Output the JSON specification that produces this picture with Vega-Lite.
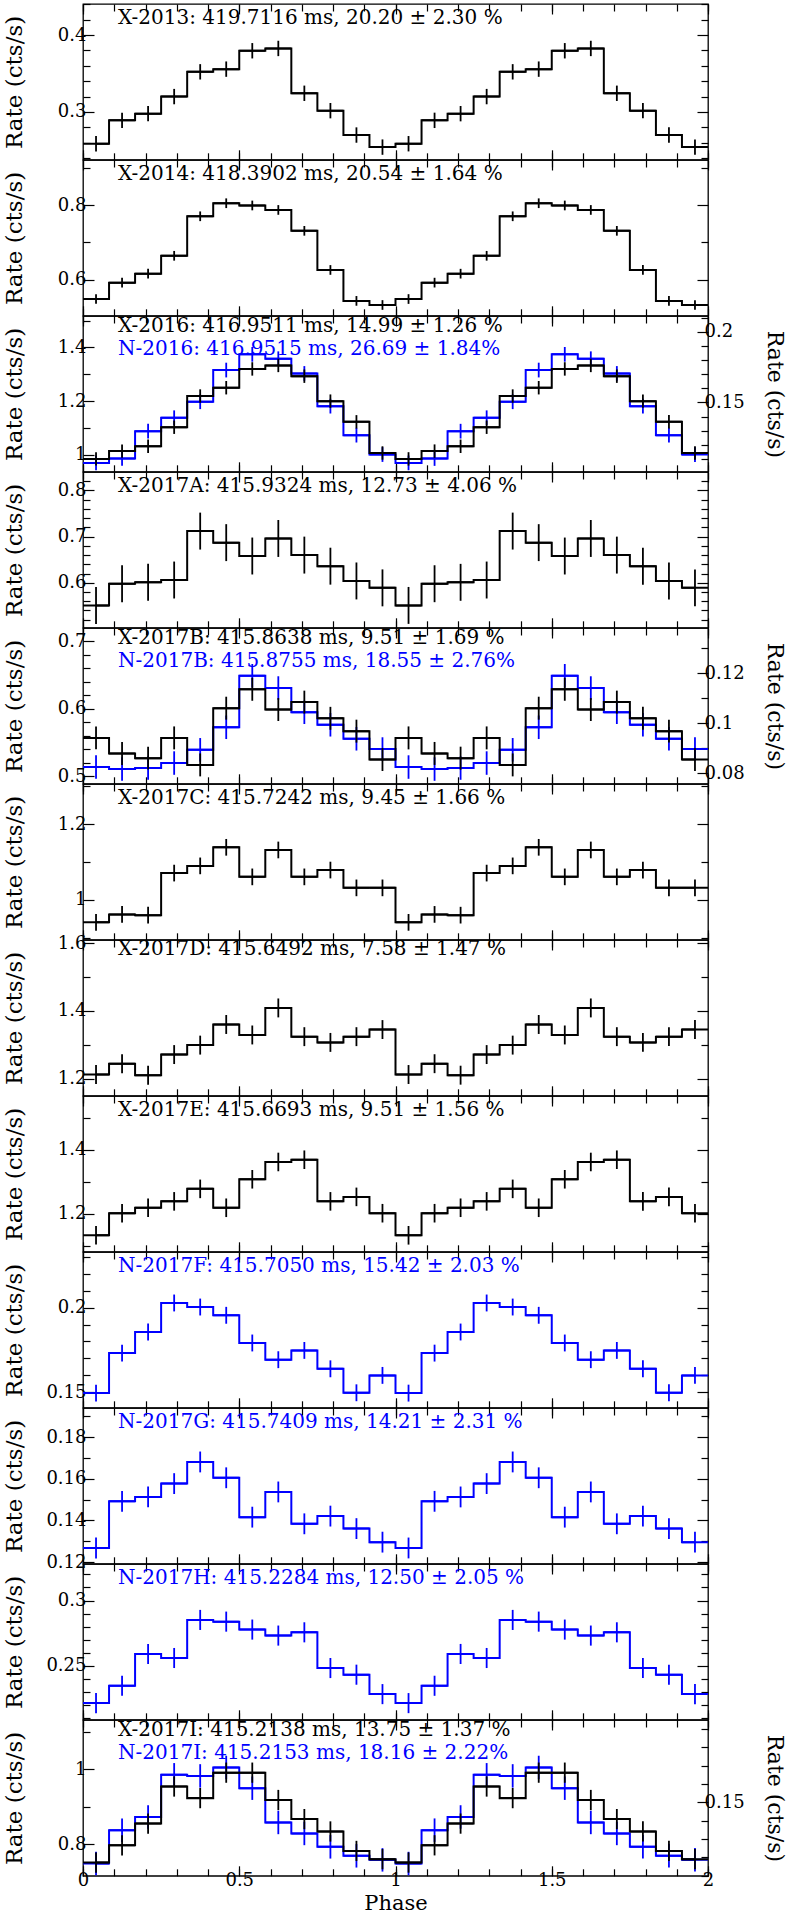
{
"$schema": "https://vega.github.io/schema/vega-lite/v6.json",
"padding": {"left": 2, "top": 2, "right": 0, "bottom": 0},
"background": "white",
"spacing": 0,
"bounds": "flush",
"datasets": {
"bins": [
{"bin":0,"phase":0.0417,"lo":0,"hi":0.0833},{"bin":1,"phase":0.125,"lo":0.0833,"hi":0.1667},{"bin":2,"phase":0.2083,"lo":0.1667,"hi":0.25},{"bin":3,"phase":0.2917,"lo":0.25,"hi":0.3333},{"bin":4,"phase":0.375,"lo":0.3333,"hi":0.4167},{"bin":5,"phase":0.4583,"lo":0.4167,"hi":0.5},{"bin":6,"phase":0.5417,"lo":0.5,"hi":0.5833},{"bin":7,"phase":0.625,"lo":0.5833,"hi":0.6667},{"bin":8,"phase":0.7083,"lo":0.6667,"hi":0.75},{"bin":9,"phase":0.7917,"lo":0.75,"hi":0.8333},{"bin":10,"phase":0.875,"lo":0.8333,"hi":0.9167},{"bin":11,"phase":0.9583,"lo":0.9167,"hi":1},
{"bin":12,"phase":1.0417,"lo":1,"hi":1.0833},{"bin":13,"phase":1.125,"lo":1.0833,"hi":1.1667},{"bin":14,"phase":1.2083,"lo":1.1667,"hi":1.25},{"bin":15,"phase":1.2917,"lo":1.25,"hi":1.3333},{"bin":16,"phase":1.375,"lo":1.3333,"hi":1.4167},{"bin":17,"phase":1.4583,"lo":1.4167,"hi":1.5},{"bin":18,"phase":1.5417,"lo":1.5,"hi":1.5833},{"bin":19,"phase":1.625,"lo":1.5833,"hi":1.6667},{"bin":20,"phase":1.7083,"lo":1.6667,"hi":1.75},{"bin":21,"phase":1.7917,"lo":1.75,"hi":1.8333},{"bin":22,"phase":1.875,"lo":1.8333,"hi":1.9167},{"bin":23,"phase":1.9583,"lo":1.9167,"hi":2}
],
"rows": [
{"s":"X-2013","bin":0,"rate":0.2587,"err":0.01},{"s":"X-2013","bin":1,"rate":0.2891,"err":0.01},{"s":"X-2013","bin":2,"rate":0.2978,"err":0.01},{"s":"X-2013","bin":3,"rate":0.32,"err":0.01},{"s":"X-2013","bin":4,"rate":0.3522,"err":0.01},{"s":"X-2013","bin":5,"rate":0.3557,"err":0.01},{"s":"X-2013","bin":6,"rate":0.3796,"err":0.01},{"s":"X-2013","bin":7,"rate":0.3826,"err":0.01},{"s":"X-2013","bin":8,"rate":0.3243,"err":0.01},{"s":"X-2013","bin":9,"rate":0.3017,"err":0.01},{"s":"X-2013","bin":10,"rate":0.27,"err":0.01},{"s":"X-2013","bin":11,"rate":0.2543,"err":0.01},
{"s":"X-2013","bin":12,"rate":0.2587,"err":0.01},{"s":"X-2013","bin":13,"rate":0.2891,"err":0.01},{"s":"X-2013","bin":14,"rate":0.2978,"err":0.01},{"s":"X-2013","bin":15,"rate":0.32,"err":0.01},{"s":"X-2013","bin":16,"rate":0.3522,"err":0.01},{"s":"X-2013","bin":17,"rate":0.3557,"err":0.01},{"s":"X-2013","bin":18,"rate":0.3796,"err":0.01},{"s":"X-2013","bin":19,"rate":0.3826,"err":0.01},{"s":"X-2013","bin":20,"rate":0.3243,"err":0.01},{"s":"X-2013","bin":21,"rate":0.3017,"err":0.01},{"s":"X-2013","bin":22,"rate":0.27,"err":0.01},{"s":"X-2013","bin":23,"rate":0.2543,"err":0.01},
{"s":"X-2014","bin":0,"rate":0.548,"err":0.013},{"s":"X-2014","bin":1,"rate":0.592,"err":0.013},{"s":"X-2014","bin":2,"rate":0.616,"err":0.013},{"s":"X-2014","bin":3,"rate":0.664,"err":0.013},{"s":"X-2014","bin":4,"rate":0.77,"err":0.013},{"s":"X-2014","bin":5,"rate":0.805,"err":0.013},{"s":"X-2014","bin":6,"rate":0.799,"err":0.013},{"s":"X-2014","bin":7,"rate":0.787,"err":0.013},{"s":"X-2014","bin":8,"rate":0.731,"err":0.013},{"s":"X-2014","bin":9,"rate":0.626,"err":0.013},{"s":"X-2014","bin":10,"rate":0.543,"err":0.013},{"s":"X-2014","bin":11,"rate":0.532,"err":0.013},
{"s":"X-2014","bin":12,"rate":0.548,"err":0.013},{"s":"X-2014","bin":13,"rate":0.592,"err":0.013},{"s":"X-2014","bin":14,"rate":0.616,"err":0.013},{"s":"X-2014","bin":15,"rate":0.664,"err":0.013},{"s":"X-2014","bin":16,"rate":0.77,"err":0.013},{"s":"X-2014","bin":17,"rate":0.805,"err":0.013},{"s":"X-2014","bin":18,"rate":0.799,"err":0.013},{"s":"X-2014","bin":19,"rate":0.787,"err":0.013},{"s":"X-2014","bin":20,"rate":0.731,"err":0.013},{"s":"X-2014","bin":21,"rate":0.626,"err":0.013},{"s":"X-2014","bin":22,"rate":0.543,"err":0.013},{"s":"X-2014","bin":23,"rate":0.532,"err":0.013},
{"s":"X-2016","bin":0,"rate":0.985,"err":0.025},{"s":"X-2016","bin":1,"rate":1.014,"err":0.025},{"s":"X-2016","bin":2,"rate":1.032,"err":0.025},{"s":"X-2016","bin":3,"rate":1.103,"err":0.025},{"s":"X-2016","bin":4,"rate":1.219,"err":0.025},{"s":"X-2016","bin":5,"rate":1.25,"err":0.025},{"s":"X-2016","bin":6,"rate":1.32,"err":0.025},{"s":"X-2016","bin":7,"rate":1.333,"err":0.025},{"s":"X-2016","bin":8,"rate":1.293,"err":0.025},{"s":"X-2016","bin":9,"rate":1.2,"err":0.025},{"s":"X-2016","bin":10,"rate":1.123,"err":0.025},{"s":"X-2016","bin":11,"rate":1.007,"err":0.025},
{"s":"X-2016","bin":12,"rate":0.985,"err":0.025},{"s":"X-2016","bin":13,"rate":1.014,"err":0.025},{"s":"X-2016","bin":14,"rate":1.032,"err":0.025},{"s":"X-2016","bin":15,"rate":1.103,"err":0.025},{"s":"X-2016","bin":16,"rate":1.219,"err":0.025},{"s":"X-2016","bin":17,"rate":1.25,"err":0.025},{"s":"X-2016","bin":18,"rate":1.32,"err":0.025},{"s":"X-2016","bin":19,"rate":1.333,"err":0.025},{"s":"X-2016","bin":20,"rate":1.293,"err":0.025},{"s":"X-2016","bin":21,"rate":1.2,"err":0.025},{"s":"X-2016","bin":22,"rate":1.123,"err":0.025},{"s":"X-2016","bin":23,"rate":1.007,"err":0.025},
{"s":"N-2016","bin":0,"rate":0.1073,"err":0.0052},{"s":"N-2016","bin":1,"rate":0.1104,"err":0.0052},{"s":"N-2016","bin":2,"rate":0.1297,"err":0.0052},{"s":"N-2016","bin":3,"rate":0.1392,"err":0.0052},{"s":"N-2016","bin":4,"rate":0.1505,"err":0.0052},{"s":"N-2016","bin":5,"rate":0.1729,"err":0.0052},{"s":"N-2016","bin":6,"rate":0.184,"err":0.0052},{"s":"N-2016","bin":7,"rate":0.1809,"err":0.0052},{"s":"N-2016","bin":8,"rate":0.1705,"err":0.0052},{"s":"N-2016","bin":9,"rate":0.1474,"err":0.0052},{"s":"N-2016","bin":10,"rate":0.1269,"err":0.0052},{"s":"N-2016","bin":11,"rate":0.1132,"err":0.0052},
{"s":"N-2016","bin":12,"rate":0.1073,"err":0.0052},{"s":"N-2016","bin":13,"rate":0.1104,"err":0.0052},{"s":"N-2016","bin":14,"rate":0.1297,"err":0.0052},{"s":"N-2016","bin":15,"rate":0.1392,"err":0.0052},{"s":"N-2016","bin":16,"rate":0.1505,"err":0.0052},{"s":"N-2016","bin":17,"rate":0.1729,"err":0.0052},{"s":"N-2016","bin":18,"rate":0.184,"err":0.0052},{"s":"N-2016","bin":19,"rate":0.1809,"err":0.0052},{"s":"N-2016","bin":20,"rate":0.1705,"err":0.0052},{"s":"N-2016","bin":21,"rate":0.1474,"err":0.0052},{"s":"N-2016","bin":22,"rate":0.1269,"err":0.0052},{"s":"N-2016","bin":23,"rate":0.1132,"err":0.0052},
{"s":"X-2017A","bin":0,"rate":0.551,"err":0.04},{"s":"X-2017A","bin":1,"rate":0.598,"err":0.04},{"s":"X-2017A","bin":2,"rate":0.601,"err":0.04},{"s":"X-2017A","bin":3,"rate":0.606,"err":0.04},{"s":"X-2017A","bin":4,"rate":0.712,"err":0.04},{"s":"X-2017A","bin":5,"rate":0.687,"err":0.04},{"s":"X-2017A","bin":6,"rate":0.658,"err":0.04},{"s":"X-2017A","bin":7,"rate":0.696,"err":0.04},{"s":"X-2017A","bin":8,"rate":0.66,"err":0.04},{"s":"X-2017A","bin":9,"rate":0.636,"err":0.04},{"s":"X-2017A","bin":10,"rate":0.604,"err":0.04},{"s":"X-2017A","bin":11,"rate":0.589,"err":0.04},
{"s":"X-2017A","bin":12,"rate":0.551,"err":0.04},{"s":"X-2017A","bin":13,"rate":0.598,"err":0.04},{"s":"X-2017A","bin":14,"rate":0.601,"err":0.04},{"s":"X-2017A","bin":15,"rate":0.606,"err":0.04},{"s":"X-2017A","bin":16,"rate":0.712,"err":0.04},{"s":"X-2017A","bin":17,"rate":0.687,"err":0.04},{"s":"X-2017A","bin":18,"rate":0.658,"err":0.04},{"s":"X-2017A","bin":19,"rate":0.696,"err":0.04},{"s":"X-2017A","bin":20,"rate":0.66,"err":0.04},{"s":"X-2017A","bin":21,"rate":0.636,"err":0.04},{"s":"X-2017A","bin":22,"rate":0.604,"err":0.04},{"s":"X-2017A","bin":23,"rate":0.589,"err":0.04},
{"s":"X-2017B","bin":0,"rate":0.557,"err":0.017},{"s":"X-2017B","bin":1,"rate":0.534,"err":0.017},{"s":"X-2017B","bin":2,"rate":0.527,"err":0.017},{"s":"X-2017B","bin":3,"rate":0.557,"err":0.017},{"s":"X-2017B","bin":4,"rate":0.517,"err":0.017},{"s":"X-2017B","bin":5,"rate":0.601,"err":0.017},{"s":"X-2017B","bin":6,"rate":0.629,"err":0.017},{"s":"X-2017B","bin":7,"rate":0.599,"err":0.017},{"s":"X-2017B","bin":8,"rate":0.61,"err":0.017},{"s":"X-2017B","bin":9,"rate":0.586,"err":0.017},{"s":"X-2017B","bin":10,"rate":0.567,"err":0.017},{"s":"X-2017B","bin":11,"rate":0.525,"err":0.017},
{"s":"X-2017B","bin":12,"rate":0.557,"err":0.017},{"s":"X-2017B","bin":13,"rate":0.534,"err":0.017},{"s":"X-2017B","bin":14,"rate":0.527,"err":0.017},{"s":"X-2017B","bin":15,"rate":0.557,"err":0.017},{"s":"X-2017B","bin":16,"rate":0.517,"err":0.017},{"s":"X-2017B","bin":17,"rate":0.601,"err":0.017},{"s":"X-2017B","bin":18,"rate":0.629,"err":0.017},{"s":"X-2017B","bin":19,"rate":0.599,"err":0.017},{"s":"X-2017B","bin":20,"rate":0.61,"err":0.017},{"s":"X-2017B","bin":21,"rate":0.586,"err":0.017},{"s":"X-2017B","bin":22,"rate":0.567,"err":0.017},{"s":"X-2017B","bin":23,"rate":0.525,"err":0.017},
{"s":"N-2017B","bin":0,"rate":0.0824,"err":0.0047},{"s":"N-2017B","bin":1,"rate":0.0816,"err":0.0047},{"s":"N-2017B","bin":2,"rate":0.082,"err":0.0047},{"s":"N-2017B","bin":3,"rate":0.084,"err":0.0047},{"s":"N-2017B","bin":4,"rate":0.0893,"err":0.0047},{"s":"N-2017B","bin":5,"rate":0.0983,"err":0.0047},{"s":"N-2017B","bin":6,"rate":0.1189,"err":0.0047},{"s":"N-2017B","bin":7,"rate":0.114,"err":0.0047},{"s":"N-2017B","bin":8,"rate":0.1043,"err":0.0047},{"s":"N-2017B","bin":9,"rate":0.0993,"err":0.0047},{"s":"N-2017B","bin":10,"rate":0.0937,"err":0.0047},{"s":"N-2017B","bin":11,"rate":0.0896,"err":0.0047},
{"s":"N-2017B","bin":12,"rate":0.0824,"err":0.0047},{"s":"N-2017B","bin":13,"rate":0.0816,"err":0.0047},{"s":"N-2017B","bin":14,"rate":0.082,"err":0.0047},{"s":"N-2017B","bin":15,"rate":0.084,"err":0.0047},{"s":"N-2017B","bin":16,"rate":0.0893,"err":0.0047},{"s":"N-2017B","bin":17,"rate":0.0983,"err":0.0047},{"s":"N-2017B","bin":18,"rate":0.1189,"err":0.0047},{"s":"N-2017B","bin":19,"rate":0.114,"err":0.0047},{"s":"N-2017B","bin":20,"rate":0.1043,"err":0.0047},{"s":"N-2017B","bin":21,"rate":0.0993,"err":0.0047},{"s":"N-2017B","bin":22,"rate":0.0937,"err":0.0047},{"s":"N-2017B","bin":23,"rate":0.0896,"err":0.0047},
{"s":"X-2017C","bin":0,"rate":0.941,"err":0.022},{"s":"X-2017C","bin":1,"rate":0.962,"err":0.022},{"s":"X-2017C","bin":2,"rate":0.96,"err":0.022},{"s":"X-2017C","bin":3,"rate":1.071,"err":0.022},{"s":"X-2017C","bin":4,"rate":1.09,"err":0.022},{"s":"X-2017C","bin":5,"rate":1.139,"err":0.022},{"s":"X-2017C","bin":6,"rate":1.061,"err":0.022},{"s":"X-2017C","bin":7,"rate":1.132,"err":0.022},{"s":"X-2017C","bin":8,"rate":1.061,"err":0.022},{"s":"X-2017C","bin":9,"rate":1.079,"err":0.022},{"s":"X-2017C","bin":10,"rate":1.032,"err":0.022},{"s":"X-2017C","bin":11,"rate":1.032,"err":0.022},
{"s":"X-2017C","bin":12,"rate":0.941,"err":0.022},{"s":"X-2017C","bin":13,"rate":0.962,"err":0.022},{"s":"X-2017C","bin":14,"rate":0.96,"err":0.022},{"s":"X-2017C","bin":15,"rate":1.071,"err":0.022},{"s":"X-2017C","bin":16,"rate":1.09,"err":0.022},{"s":"X-2017C","bin":17,"rate":1.139,"err":0.022},{"s":"X-2017C","bin":18,"rate":1.061,"err":0.022},{"s":"X-2017C","bin":19,"rate":1.132,"err":0.022},{"s":"X-2017C","bin":20,"rate":1.061,"err":0.022},{"s":"X-2017C","bin":21,"rate":1.079,"err":0.022},{"s":"X-2017C","bin":22,"rate":1.032,"err":0.022},{"s":"X-2017C","bin":23,"rate":1.032,"err":0.022},
{"s":"X-2017D","bin":0,"rate":1.212,"err":0.028},{"s":"X-2017D","bin":1,"rate":1.244,"err":0.028},{"s":"X-2017D","bin":2,"rate":1.21,"err":0.028},{"s":"X-2017D","bin":3,"rate":1.271,"err":0.028},{"s":"X-2017D","bin":4,"rate":1.299,"err":0.028},{"s":"X-2017D","bin":5,"rate":1.36,"err":0.028},{"s":"X-2017D","bin":6,"rate":1.329,"err":0.028},{"s":"X-2017D","bin":7,"rate":1.409,"err":0.028},{"s":"X-2017D","bin":8,"rate":1.324,"err":0.028},{"s":"X-2017D","bin":9,"rate":1.307,"err":0.028},{"s":"X-2017D","bin":10,"rate":1.324,"err":0.028},{"s":"X-2017D","bin":11,"rate":1.345,"err":0.028},
{"s":"X-2017D","bin":12,"rate":1.212,"err":0.028},{"s":"X-2017D","bin":13,"rate":1.244,"err":0.028},{"s":"X-2017D","bin":14,"rate":1.21,"err":0.028},{"s":"X-2017D","bin":15,"rate":1.271,"err":0.028},{"s":"X-2017D","bin":16,"rate":1.299,"err":0.028},{"s":"X-2017D","bin":17,"rate":1.36,"err":0.028},{"s":"X-2017D","bin":18,"rate":1.329,"err":0.028},{"s":"X-2017D","bin":19,"rate":1.409,"err":0.028},{"s":"X-2017D","bin":20,"rate":1.324,"err":0.028},{"s":"X-2017D","bin":21,"rate":1.307,"err":0.028},{"s":"X-2017D","bin":22,"rate":1.324,"err":0.028},{"s":"X-2017D","bin":23,"rate":1.345,"err":0.028},
{"s":"X-2017E","bin":0,"rate":1.133,"err":0.029},{"s":"X-2017E","bin":1,"rate":1.202,"err":0.029},{"s":"X-2017E","bin":2,"rate":1.219,"err":0.029},{"s":"X-2017E","bin":3,"rate":1.239,"err":0.029},{"s":"X-2017E","bin":4,"rate":1.278,"err":0.029},{"s":"X-2017E","bin":5,"rate":1.219,"err":0.029},{"s":"X-2017E","bin":6,"rate":1.308,"err":0.029},{"s":"X-2017E","bin":7,"rate":1.362,"err":0.029},{"s":"X-2017E","bin":8,"rate":1.369,"err":0.029},{"s":"X-2017E","bin":9,"rate":1.239,"err":0.029},{"s":"X-2017E","bin":10,"rate":1.253,"err":0.029},{"s":"X-2017E","bin":11,"rate":1.202,"err":0.029},
{"s":"X-2017E","bin":12,"rate":1.133,"err":0.029},{"s":"X-2017E","bin":13,"rate":1.202,"err":0.029},{"s":"X-2017E","bin":14,"rate":1.219,"err":0.029},{"s":"X-2017E","bin":15,"rate":1.239,"err":0.029},{"s":"X-2017E","bin":16,"rate":1.278,"err":0.029},{"s":"X-2017E","bin":17,"rate":1.219,"err":0.029},{"s":"X-2017E","bin":18,"rate":1.308,"err":0.029},{"s":"X-2017E","bin":19,"rate":1.362,"err":0.029},{"s":"X-2017E","bin":20,"rate":1.369,"err":0.029},{"s":"X-2017E","bin":21,"rate":1.239,"err":0.029},{"s":"X-2017E","bin":22,"rate":1.253,"err":0.029},{"s":"X-2017E","bin":23,"rate":1.202,"err":0.029},
{"s":"N-2017F","bin":0,"rate":0.1494,"err":0.005},{"s":"N-2017F","bin":1,"rate":0.1731,"err":0.005},{"s":"N-2017F","bin":2,"rate":0.1856,"err":0.005},{"s":"N-2017F","bin":3,"rate":0.2028,"err":0.005},{"s":"N-2017F","bin":4,"rate":0.2004,"err":0.005},{"s":"N-2017F","bin":5,"rate":0.1955,"err":0.005},{"s":"N-2017F","bin":6,"rate":0.1791,"err":0.005},{"s":"N-2017F","bin":7,"rate":0.1692,"err":0.005},{"s":"N-2017F","bin":8,"rate":0.1747,"err":0.005},{"s":"N-2017F","bin":9,"rate":0.1638,"err":0.005},{"s":"N-2017F","bin":10,"rate":0.1496,"err":0.005},{"s":"N-2017F","bin":11,"rate":0.1599,"err":0.005},
{"s":"N-2017F","bin":12,"rate":0.1494,"err":0.005},{"s":"N-2017F","bin":13,"rate":0.1731,"err":0.005},{"s":"N-2017F","bin":14,"rate":0.1856,"err":0.005},{"s":"N-2017F","bin":15,"rate":0.2028,"err":0.005},{"s":"N-2017F","bin":16,"rate":0.2004,"err":0.005},{"s":"N-2017F","bin":17,"rate":0.1955,"err":0.005},{"s":"N-2017F","bin":18,"rate":0.1791,"err":0.005},{"s":"N-2017F","bin":19,"rate":0.1692,"err":0.005},{"s":"N-2017F","bin":20,"rate":0.1747,"err":0.005},{"s":"N-2017F","bin":21,"rate":0.1638,"err":0.005},{"s":"N-2017F","bin":22,"rate":0.1496,"err":0.005},{"s":"N-2017F","bin":23,"rate":0.1599,"err":0.005},
{"s":"N-2017G","bin":0,"rate":0.1268,"err":0.005},{"s":"N-2017G","bin":1,"rate":0.1492,"err":0.005},{"s":"N-2017G","bin":2,"rate":0.1513,"err":0.005},{"s":"N-2017G","bin":3,"rate":0.1577,"err":0.005},{"s":"N-2017G","bin":4,"rate":0.1681,"err":0.005},{"s":"N-2017G","bin":5,"rate":0.1605,"err":0.005},{"s":"N-2017G","bin":6,"rate":0.1416,"err":0.005},{"s":"N-2017G","bin":7,"rate":0.1537,"err":0.005},{"s":"N-2017G","bin":8,"rate":0.1384,"err":0.005},{"s":"N-2017G","bin":9,"rate":0.1421,"err":0.005},{"s":"N-2017G","bin":10,"rate":0.1361,"err":0.005},{"s":"N-2017G","bin":11,"rate":0.1296,"err":0.005},
{"s":"N-2017G","bin":12,"rate":0.1268,"err":0.005},{"s":"N-2017G","bin":13,"rate":0.1492,"err":0.005},{"s":"N-2017G","bin":14,"rate":0.1513,"err":0.005},{"s":"N-2017G","bin":15,"rate":0.1577,"err":0.005},{"s":"N-2017G","bin":16,"rate":0.1681,"err":0.005},{"s":"N-2017G","bin":17,"rate":0.1605,"err":0.005},{"s":"N-2017G","bin":18,"rate":0.1416,"err":0.005},{"s":"N-2017G","bin":19,"rate":0.1537,"err":0.005},{"s":"N-2017G","bin":20,"rate":0.1384,"err":0.005},{"s":"N-2017G","bin":21,"rate":0.1421,"err":0.005},{"s":"N-2017G","bin":22,"rate":0.1361,"err":0.005},{"s":"N-2017G","bin":23,"rate":0.1296,"err":0.005},
{"s":"N-2017H","bin":0,"rate":0.2213,"err":0.0077},{"s":"N-2017H","bin":1,"rate":0.2346,"err":0.0077},{"s":"N-2017H","bin":2,"rate":0.259,"err":0.0077},{"s":"N-2017H","bin":3,"rate":0.2559,"err":0.0077},{"s":"N-2017H","bin":4,"rate":0.2851,"err":0.0077},{"s":"N-2017H","bin":5,"rate":0.2838,"err":0.0077},{"s":"N-2017H","bin":6,"rate":0.2777,"err":0.0077},{"s":"N-2017H","bin":7,"rate":0.2731,"err":0.0077},{"s":"N-2017H","bin":8,"rate":0.2756,"err":0.0077},{"s":"N-2017H","bin":9,"rate":0.2482,"err":0.0077},{"s":"N-2017H","bin":10,"rate":0.2431,"err":0.0077},{"s":"N-2017H","bin":11,"rate":0.2282,"err":0.0077},
{"s":"N-2017H","bin":12,"rate":0.2213,"err":0.0077},{"s":"N-2017H","bin":13,"rate":0.2346,"err":0.0077},{"s":"N-2017H","bin":14,"rate":0.259,"err":0.0077},{"s":"N-2017H","bin":15,"rate":0.2559,"err":0.0077},{"s":"N-2017H","bin":16,"rate":0.2851,"err":0.0077},{"s":"N-2017H","bin":17,"rate":0.2838,"err":0.0077},{"s":"N-2017H","bin":18,"rate":0.2777,"err":0.0077},{"s":"N-2017H","bin":19,"rate":0.2731,"err":0.0077},{"s":"N-2017H","bin":20,"rate":0.2756,"err":0.0077},{"s":"N-2017H","bin":21,"rate":0.2482,"err":0.0077},{"s":"N-2017H","bin":22,"rate":0.2431,"err":0.0077},{"s":"N-2017H","bin":23,"rate":0.2282,"err":0.0077},
{"s":"X-2017I","bin":0,"rate":0.751,"err":0.027},{"s":"X-2017I","bin":1,"rate":0.797,"err":0.027},{"s":"X-2017I","bin":2,"rate":0.855,"err":0.027},{"s":"X-2017I","bin":3,"rate":0.954,"err":0.027},{"s":"X-2017I","bin":4,"rate":0.923,"err":0.027},{"s":"X-2017I","bin":5,"rate":0.991,"err":0.027},{"s":"X-2017I","bin":6,"rate":0.991,"err":0.027},{"s":"X-2017I","bin":7,"rate":0.918,"err":0.027},{"s":"X-2017I","bin":8,"rate":0.867,"err":0.027},{"s":"X-2017I","bin":9,"rate":0.834,"err":0.027},{"s":"X-2017I","bin":10,"rate":0.782,"err":0.027},{"s":"X-2017I","bin":11,"rate":0.76,"err":0.027},
{"s":"X-2017I","bin":12,"rate":0.751,"err":0.027},{"s":"X-2017I","bin":13,"rate":0.797,"err":0.027},{"s":"X-2017I","bin":14,"rate":0.855,"err":0.027},{"s":"X-2017I","bin":15,"rate":0.954,"err":0.027},{"s":"X-2017I","bin":16,"rate":0.923,"err":0.027},{"s":"X-2017I","bin":17,"rate":0.991,"err":0.027},{"s":"X-2017I","bin":18,"rate":0.991,"err":0.027},{"s":"X-2017I","bin":19,"rate":0.918,"err":0.027},{"s":"X-2017I","bin":20,"rate":0.867,"err":0.027},{"s":"X-2017I","bin":21,"rate":0.834,"err":0.027},{"s":"X-2017I","bin":22,"rate":0.782,"err":0.027},{"s":"X-2017I","bin":23,"rate":0.76,"err":0.027},
{"s":"N-2017I","bin":0,"rate":0.1167,"err":0.0064},{"s":"N-2017I","bin":1,"rate":0.1349,"err":0.0064},{"s":"N-2017I","bin":2,"rate":0.1421,"err":0.0064},{"s":"N-2017I","bin":3,"rate":0.1651,"err":0.0064},{"s":"N-2017I","bin":4,"rate":0.1645,"err":0.0064},{"s":"N-2017I","bin":5,"rate":0.1691,"err":0.0064},{"s":"N-2017I","bin":6,"rate":0.1578,"err":0.0064},{"s":"N-2017I","bin":7,"rate":0.1391,"err":0.0064},{"s":"N-2017I","bin":8,"rate":0.1331,"err":0.0064},{"s":"N-2017I","bin":9,"rate":0.1258,"err":0.0064},{"s":"N-2017I","bin":10,"rate":0.1209,"err":0.0064},{"s":"N-2017I","bin":11,"rate":0.1187,"err":0.0064},
{"s":"N-2017I","bin":12,"rate":0.1167,"err":0.0064},{"s":"N-2017I","bin":13,"rate":0.1349,"err":0.0064},{"s":"N-2017I","bin":14,"rate":0.1421,"err":0.0064},{"s":"N-2017I","bin":15,"rate":0.1651,"err":0.0064},{"s":"N-2017I","bin":16,"rate":0.1645,"err":0.0064},{"s":"N-2017I","bin":17,"rate":0.1691,"err":0.0064},{"s":"N-2017I","bin":18,"rate":0.1578,"err":0.0064},{"s":"N-2017I","bin":19,"rate":0.1391,"err":0.0064},{"s":"N-2017I","bin":20,"rate":0.1331,"err":0.0064},{"s":"N-2017I","bin":21,"rate":0.1258,"err":0.0064},{"s":"N-2017I","bin":22,"rate":0.1209,"err":0.0064},{"s":"N-2017I","bin":23,"rate":0.1187,"err":0.0064}
]
},
"data": {"name": "rows"},
"transform": [{"lookup": "bin", "from": {"data": {"name": "bins"}, "key": "bin", "fields": ["phase", "lo", "hi"]}}],
"vconcat": [
{"width":625,"height":155.8,"title":{"text":"X-2013: 419.7116 ms, 20.20 ± 2.30 %"},"transform":[{"filter":"datum.s==='X-2013'"}],
"layer":[
{"mark":{"type":"rule","color":"#000","strokeWidth":2,"clip":true},"encoding":{"x":{"field":"lo","type":"quantitative","scale":{"domain":[0,2],"nice":false,"zero":false},"axis":{"orient":"bottom","values":[0,0.1,0.2,0.3,0.4,0.5,0.6,0.7,0.8,0.9,1,1.1,1.2,1.3,1.4,1.5,1.6,1.7,1.8,1.9,2],"tickSize":-7,"labels":false,"title":null}},"x2":{"field":"hi"},"y":{"field":"rate","type":"quantitative","scale":{"domain":[0.2378,0.4404],"nice":false,"zero":false},"axis":{"orient":"left","values":[0.3,0.4],"format":"~g","tickSize":-11,"title":"Rate (cts/s)","titlePadding":13,"titleFont":"DejaVu Serif","titleFontSize":23,"titleFontWeight":"normal","titleLimit":1000,"minExtent":44,"maxExtent":44}}}},
{"mark":{"type":"line","interpolate":"step","color":"#000","strokeWidth":2,"clip":true},"encoding":{"x":{"field":"phase","type":"quantitative","scale":{"domain":[0,2],"nice":false,"zero":false},"axis":null},"y":{"field":"rate","type":"quantitative","scale":{"domain":[0.2378,0.4404],"nice":false,"zero":false},"axis":null}}},
{"mark":{"type":"errorbar","color":"#000","thickness":1.8},"encoding":{"x":{"field":"phase","type":"quantitative","scale":{"domain":[0,2],"nice":false,"zero":false},"axis":null},"y":{"field":"rate","type":"quantitative","scale":{"domain":[0.2378,0.4404],"nice":false,"zero":false},"axis":null},"yError":{"field":"err"}}},
{"mark":{"type":"point","opacity":0},"encoding":{"x":{"field":"phase","type":"quantitative","scale":{"domain":[0,2],"nice":false,"zero":false},"axis":{"orient":"top","values":[0,0.1,0.2,0.3,0.4,0.5,0.6,0.7,0.8,0.9,1,1.1,1.2,1.3,1.4,1.5,1.6,1.7,1.8,1.9,2],"tickSize":-7,"labels":false,"title":null}},"y":{"field":"rate","type":"quantitative","scale":{"domain":[0.2378,0.4404],"nice":false,"zero":false},"axis":{"orient":"left","values":[0.24,0.26,0.28,0.32,0.34,0.36,0.38,0.42,0.44],"tickSize":-7,"labels":false,"title":null}}}},
{"mark":{"type":"point","opacity":0},"encoding":{"x":{"field":"phase","type":"quantitative","scale":{"domain":[0,2],"nice":false,"zero":false},"axis":{"orient":"bottom","values":[0,0.5,1,1.5,2],"tickSize":-10,"labels":false,"title":null}},"y":{"field":"rate","type":"quantitative","scale":{"domain":[0.2378,0.4404],"nice":false,"zero":false},"axis":{"orient":"right","values":[0.3,0.4],"tickSize":-11,"labels":false,"title":null}}}},
{"mark":{"type":"point","opacity":0},"encoding":{"x":{"field":"phase","type":"quantitative","scale":{"domain":[0,2],"nice":false,"zero":false},"axis":{"orient":"top","values":[0,0.5,1,1.5,2],"tickSize":-10,"labels":false,"title":null}},"y":{"field":"rate","type":"quantitative","scale":{"domain":[0.2378,0.4404],"nice":false,"zero":false},"axis":{"orient":"right","values":[0.24,0.26,0.28,0.32,0.34,0.36,0.38,0.42,0.44],"tickSize":-7,"labels":false,"title":null}}}}
],"resolve":{"scale":{"y":"independent"},"axis":{"x":"independent","y":"independent"}}},

{"width":625,"height":155.8,"title":{"text":"X-2014: 418.3902 ms, 20.54 ± 1.64 %"},"transform":[{"filter":"datum.s==='X-2014'"}],
"layer":[
{"mark":{"type":"rule","color":"#000","strokeWidth":2,"clip":true},"encoding":{"x":{"field":"lo","type":"quantitative","scale":{"domain":[0,2],"nice":false,"zero":false},"axis":{"orient":"bottom","values":[0,0.1,0.2,0.3,0.4,0.5,0.6,0.7,0.8,0.9,1,1.1,1.2,1.3,1.4,1.5,1.6,1.7,1.8,1.9,2],"tickSize":-7,"labels":false,"title":null}},"x2":{"field":"hi"},"y":{"field":"rate","type":"quantitative","scale":{"domain":[0.503,0.921],"nice":false,"zero":false},"axis":{"orient":"left","values":[0.6,0.8],"format":"~g","tickSize":-11,"title":"Rate (cts/s)","titlePadding":13,"titleFont":"DejaVu Serif","titleFontSize":23,"titleFontWeight":"normal","titleLimit":1000,"minExtent":44,"maxExtent":44}}}},
{"mark":{"type":"line","interpolate":"step","color":"#000","strokeWidth":2,"clip":true},"encoding":{"x":{"field":"phase","type":"quantitative","scale":{"domain":[0,2],"nice":false,"zero":false},"axis":null},"y":{"field":"rate","type":"quantitative","scale":{"domain":[0.503,0.921],"nice":false,"zero":false},"axis":null}}},
{"mark":{"type":"errorbar","color":"#000","thickness":1.8},"encoding":{"x":{"field":"phase","type":"quantitative","scale":{"domain":[0,2],"nice":false,"zero":false},"axis":null},"y":{"field":"rate","type":"quantitative","scale":{"domain":[0.503,0.921],"nice":false,"zero":false},"axis":null},"yError":{"field":"err"}}},
{"mark":{"type":"point","opacity":0},"encoding":{"x":{"field":"phase","type":"quantitative","scale":{"domain":[0,2],"nice":false,"zero":false},"axis":{"orient":"top","values":[0,0.1,0.2,0.3,0.4,0.5,0.6,0.7,0.8,0.9,1,1.1,1.2,1.3,1.4,1.5,1.6,1.7,1.8,1.9,2],"tickSize":-7,"labels":false,"title":null}},"y":{"field":"rate","type":"quantitative","scale":{"domain":[0.503,0.921],"nice":false,"zero":false},"axis":{"orient":"left","values":[0.7,0.9],"tickSize":-7,"labels":false,"title":null}}}},
{"mark":{"type":"point","opacity":0},"encoding":{"x":{"field":"phase","type":"quantitative","scale":{"domain":[0,2],"nice":false,"zero":false},"axis":{"orient":"bottom","values":[0,0.5,1,1.5,2],"tickSize":-10,"labels":false,"title":null}},"y":{"field":"rate","type":"quantitative","scale":{"domain":[0.503,0.921],"nice":false,"zero":false},"axis":{"orient":"right","values":[0.6,0.8],"tickSize":-11,"labels":false,"title":null}}}},
{"mark":{"type":"point","opacity":0},"encoding":{"x":{"field":"phase","type":"quantitative","scale":{"domain":[0,2],"nice":false,"zero":false},"axis":{"orient":"top","values":[0,0.5,1,1.5,2],"tickSize":-10,"labels":false,"title":null}},"y":{"field":"rate","type":"quantitative","scale":{"domain":[0.503,0.921],"nice":false,"zero":false},"axis":{"orient":"right","values":[0.7,0.9],"tickSize":-7,"labels":false,"title":null}}}}
],"resolve":{"scale":{"y":"independent"},"axis":{"x":"independent","y":"independent"}}},

{"width":625,"height":155.8,"title":{"text":"X-2016: 416.9511 ms, 14.99 ± 1.26 %","subtitle":"N-2016: 416.9515 ms, 26.69 ± 1.84%","offset":-44},
"layer":[
{"transform":[{"filter":"datum.s==='N-2016'"}],"mark":{"type":"rule","color":"#0000ff","strokeWidth":2,"clip":true},"encoding":{"x":{"field":"lo","type":"quantitative","scale":{"domain":[0,2],"nice":false,"zero":false},"axis":{"orient":"top","values":[0,0.1,0.2,0.3,0.4,0.5,0.6,0.7,0.8,0.9,1,1.1,1.2,1.3,1.4,1.5,1.6,1.7,1.8,1.9,2],"tickSize":-7,"labels":false,"title":null}},"x2":{"field":"hi"},"y":{"field":"rate","type":"quantitative","scale":{"domain":[0.101,0.2111],"nice":false,"zero":false},"axis":{"orient":"right","values":[0.15,0.2],"format":"~g","tickSize":-11,"labelPadding":7,"title":"Rate (cts/s)","titlePadding":10,"titleFont":"DejaVu Serif","titleFontSize":22,"titleFontWeight":"normal","titleLimit":1000,"minExtent":44,"maxExtent":44}}}},
{"transform":[{"filter":"datum.s==='N-2016'"}],"mark":{"type":"line","interpolate":"step","color":"#0000ff","strokeWidth":2,"clip":true},"encoding":{"x":{"field":"phase","type":"quantitative","scale":{"domain":[0,2],"nice":false,"zero":false},"axis":null},"y":{"field":"rate","type":"quantitative","scale":{"domain":[0.101,0.2111],"nice":false,"zero":false},"axis":null}}},
{"transform":[{"filter":"datum.s==='N-2016'"}],"mark":{"type":"errorbar","color":"#0000ff","thickness":1.8},"encoding":{"x":{"field":"phase","type":"quantitative","scale":{"domain":[0,2],"nice":false,"zero":false},"axis":null},"y":{"field":"rate","type":"quantitative","scale":{"domain":[0.101,0.2111],"nice":false,"zero":false},"axis":null},"yError":{"field":"err"}}},
{"transform":[{"filter":"datum.s==='X-2016'"}],"mark":{"type":"rule","color":"#000","strokeWidth":2,"clip":true},"encoding":{"x":{"field":"lo","type":"quantitative","scale":{"domain":[0,2],"nice":false,"zero":false},"axis":{"orient":"bottom","values":[0,0.1,0.2,0.3,0.4,0.5,0.6,0.7,0.8,0.9,1,1.1,1.2,1.3,1.4,1.5,1.6,1.7,1.8,1.9,2],"tickSize":-7,"labels":false,"title":null}},"x2":{"field":"hi"},"y":{"field":"rate","type":"quantitative","scale":{"domain":[0.937,1.517],"nice":false,"zero":false},"axis":{"orient":"left","values":[1,1.2,1.4],"format":"~g","tickSize":-11,"title":"Rate (cts/s)","titlePadding":13,"titleFont":"DejaVu Serif","titleFontSize":23,"titleFontWeight":"normal","titleLimit":1000,"minExtent":44,"maxExtent":44}}}},
{"transform":[{"filter":"datum.s==='X-2016'"}],"mark":{"type":"line","interpolate":"step","color":"#000","strokeWidth":2,"clip":true},"encoding":{"x":{"field":"phase","type":"quantitative","scale":{"domain":[0,2],"nice":false,"zero":false},"axis":null},"y":{"field":"rate","type":"quantitative","scale":{"domain":[0.937,1.517],"nice":false,"zero":false},"axis":null}}},
{"transform":[{"filter":"datum.s==='X-2016'"}],"mark":{"type":"errorbar","color":"#000","thickness":1.8},"encoding":{"x":{"field":"phase","type":"quantitative","scale":{"domain":[0,2],"nice":false,"zero":false},"axis":null},"y":{"field":"rate","type":"quantitative","scale":{"domain":[0.937,1.517],"nice":false,"zero":false},"axis":null},"yError":{"field":"err"}}},
{"transform":[{"filter":"datum.s==='X-2016'"}],"mark":{"type":"point","opacity":0},"encoding":{"x":{"field":"phase","type":"quantitative","scale":{"domain":[0,2],"nice":false,"zero":false},"axis":{"orient":"bottom","values":[0,0.5,1,1.5,2],"tickSize":-10,"labels":false,"title":null}},"y":{"field":"rate","type":"quantitative","scale":{"domain":[0.937,1.517],"nice":false,"zero":false},"axis":{"orient":"left","values":[1.1,1.3,1.5],"tickSize":-7,"labels":false,"title":null}}}},
{"transform":[{"filter":"datum.s==='N-2016'"}],"mark":{"type":"point","opacity":0},"encoding":{"x":{"field":"phase","type":"quantitative","scale":{"domain":[0,2],"nice":false,"zero":false},"axis":{"orient":"top","values":[0,0.5,1,1.5,2],"tickSize":-10,"labels":false,"title":null}},"y":{"field":"rate","type":"quantitative","scale":{"domain":[0.101,0.2111],"nice":false,"zero":false},"axis":{"orient":"right","values":[0.11,0.12,0.13,0.14,0.16,0.17,0.18,0.19,0.21],"tickSize":-7,"labels":false,"title":null}}}}
],"resolve":{"scale":{"y":"independent"},"axis":{"x":"independent","y":"independent"}}},

{"width":625,"height":155.8,"title":{"text":"X-2017A: 415.9324 ms, 12.73 ± 4.06 %"},"transform":[{"filter":"datum.s==='X-2017A'"}],
"layer":[
{"mark":{"type":"rule","color":"#000","strokeWidth":2,"clip":true},"encoding":{"x":{"field":"lo","type":"quantitative","scale":{"domain":[0,2],"nice":false,"zero":false},"axis":{"orient":"bottom","values":[0,0.1,0.2,0.3,0.4,0.5,0.6,0.7,0.8,0.9,1,1.1,1.2,1.3,1.4,1.5,1.6,1.7,1.8,1.9,2],"tickSize":-7,"labels":false,"title":null}},"x2":{"field":"hi"},"y":{"field":"rate","type":"quantitative","scale":{"domain":[0.5025,0.84],"nice":false,"zero":false},"axis":{"orient":"left","values":[0.6,0.7,0.8],"format":"~g","tickSize":-11,"title":"Rate (cts/s)","titlePadding":13,"titleFont":"DejaVu Serif","titleFontSize":23,"titleFontWeight":"normal","titleLimit":1000,"minExtent":44,"maxExtent":44}}}},
{"mark":{"type":"line","interpolate":"step","color":"#000","strokeWidth":2,"clip":true},"encoding":{"x":{"field":"phase","type":"quantitative","scale":{"domain":[0,2],"nice":false,"zero":false},"axis":null},"y":{"field":"rate","type":"quantitative","scale":{"domain":[0.5025,0.84],"nice":false,"zero":false},"axis":null}}},
{"mark":{"type":"errorbar","color":"#000","thickness":1.8},"encoding":{"x":{"field":"phase","type":"quantitative","scale":{"domain":[0,2],"nice":false,"zero":false},"axis":null},"y":{"field":"rate","type":"quantitative","scale":{"domain":[0.5025,0.84],"nice":false,"zero":false},"axis":null},"yError":{"field":"err"}}},
{"mark":{"type":"point","opacity":0},"encoding":{"x":{"field":"phase","type":"quantitative","scale":{"domain":[0,2],"nice":false,"zero":false},"axis":{"orient":"top","values":[0,0.1,0.2,0.3,0.4,0.5,0.6,0.7,0.8,0.9,1,1.1,1.2,1.3,1.4,1.5,1.6,1.7,1.8,1.9,2],"tickSize":-7,"labels":false,"title":null}},"y":{"field":"rate","type":"quantitative","scale":{"domain":[0.5025,0.84],"nice":false,"zero":false},"axis":{"orient":"left","values":[0.52,0.54,0.56,0.58,0.62,0.64,0.66,0.68,0.72,0.74,0.76,0.78,0.82],"tickSize":-7,"labels":false,"title":null}}}},
{"mark":{"type":"point","opacity":0},"encoding":{"x":{"field":"phase","type":"quantitative","scale":{"domain":[0,2],"nice":false,"zero":false},"axis":{"orient":"bottom","values":[0,0.5,1,1.5,2],"tickSize":-10,"labels":false,"title":null}},"y":{"field":"rate","type":"quantitative","scale":{"domain":[0.5025,0.84],"nice":false,"zero":false},"axis":{"orient":"right","values":[0.6,0.7,0.8],"tickSize":-11,"labels":false,"title":null}}}},
{"mark":{"type":"point","opacity":0},"encoding":{"x":{"field":"phase","type":"quantitative","scale":{"domain":[0,2],"nice":false,"zero":false},"axis":{"orient":"top","values":[0,0.5,1,1.5,2],"tickSize":-10,"labels":false,"title":null}},"y":{"field":"rate","type":"quantitative","scale":{"domain":[0.5025,0.84],"nice":false,"zero":false},"axis":{"orient":"right","values":[0.52,0.54,0.56,0.58,0.62,0.64,0.66,0.68,0.72,0.74,0.76,0.78,0.82],"tickSize":-7,"labels":false,"title":null}}}}
],"resolve":{"scale":{"y":"independent"},"axis":{"x":"independent","y":"independent"}}},

{"width":625,"height":155.8,"title":{"text":"X-2017B: 415.8638 ms, 9.51 ± 1.69 %","subtitle":"N-2017B: 415.8755 ms, 18.55 ± 2.76%","offset":-44},
"layer":[
{"transform":[{"filter":"datum.s==='N-2017B'"}],"mark":{"type":"rule","color":"#0000ff","strokeWidth":2,"clip":true},"encoding":{"x":{"field":"lo","type":"quantitative","scale":{"domain":[0,2],"nice":false,"zero":false},"axis":{"orient":"top","values":[0,0.1,0.2,0.3,0.4,0.5,0.6,0.7,0.8,0.9,1,1.1,1.2,1.3,1.4,1.5,1.6,1.7,1.8,1.9,2],"tickSize":-7,"labels":false,"title":null}},"x2":{"field":"hi"},"y":{"field":"rate","type":"quantitative","scale":{"domain":[0.0757,0.138],"nice":false,"zero":false},"axis":{"orient":"right","values":[0.08,0.1,0.12],"format":"~g","tickSize":-11,"labelPadding":7,"title":"Rate (cts/s)","titlePadding":10,"titleFont":"DejaVu Serif","titleFontSize":22,"titleFontWeight":"normal","titleLimit":1000,"minExtent":44,"maxExtent":44}}}},
{"transform":[{"filter":"datum.s==='N-2017B'"}],"mark":{"type":"line","interpolate":"step","color":"#0000ff","strokeWidth":2,"clip":true},"encoding":{"x":{"field":"phase","type":"quantitative","scale":{"domain":[0,2],"nice":false,"zero":false},"axis":null},"y":{"field":"rate","type":"quantitative","scale":{"domain":[0.0757,0.138],"nice":false,"zero":false},"axis":null}}},
{"transform":[{"filter":"datum.s==='N-2017B'"}],"mark":{"type":"errorbar","color":"#0000ff","thickness":1.8},"encoding":{"x":{"field":"phase","type":"quantitative","scale":{"domain":[0,2],"nice":false,"zero":false},"axis":null},"y":{"field":"rate","type":"quantitative","scale":{"domain":[0.0757,0.138],"nice":false,"zero":false},"axis":null},"yError":{"field":"err"}}},
{"transform":[{"filter":"datum.s==='X-2017B'"}],"mark":{"type":"rule","color":"#000","strokeWidth":2,"clip":true},"encoding":{"x":{"field":"lo","type":"quantitative","scale":{"domain":[0,2],"nice":false,"zero":false},"axis":{"orient":"bottom","values":[0,0.1,0.2,0.3,0.4,0.5,0.6,0.7,0.8,0.9,1,1.1,1.2,1.3,1.4,1.5,1.6,1.7,1.8,1.9,2],"tickSize":-7,"labels":false,"title":null}},"x2":{"field":"hi"},"y":{"field":"rate","type":"quantitative","scale":{"domain":[0.489,0.7198],"nice":false,"zero":false},"axis":{"orient":"left","values":[0.5,0.6,0.7],"format":"~g","tickSize":-11,"title":"Rate (cts/s)","titlePadding":13,"titleFont":"DejaVu Serif","titleFontSize":23,"titleFontWeight":"normal","titleLimit":1000,"minExtent":44,"maxExtent":44}}}},
{"transform":[{"filter":"datum.s==='X-2017B'"}],"mark":{"type":"line","interpolate":"step","color":"#000","strokeWidth":2,"clip":true},"encoding":{"x":{"field":"phase","type":"quantitative","scale":{"domain":[0,2],"nice":false,"zero":false},"axis":null},"y":{"field":"rate","type":"quantitative","scale":{"domain":[0.489,0.7198],"nice":false,"zero":false},"axis":null}}},
{"transform":[{"filter":"datum.s==='X-2017B'"}],"mark":{"type":"errorbar","color":"#000","thickness":1.8},"encoding":{"x":{"field":"phase","type":"quantitative","scale":{"domain":[0,2],"nice":false,"zero":false},"axis":null},"y":{"field":"rate","type":"quantitative","scale":{"domain":[0.489,0.7198],"nice":false,"zero":false},"axis":null},"yError":{"field":"err"}}},
{"transform":[{"filter":"datum.s==='X-2017B'"}],"mark":{"type":"point","opacity":0},"encoding":{"x":{"field":"phase","type":"quantitative","scale":{"domain":[0,2],"nice":false,"zero":false},"axis":{"orient":"bottom","values":[0,0.5,1,1.5,2],"tickSize":-10,"labels":false,"title":null}},"y":{"field":"rate","type":"quantitative","scale":{"domain":[0.489,0.7198],"nice":false,"zero":false},"axis":{"orient":"left","values":[0.52,0.54,0.56,0.58,0.62,0.64,0.66,0.68],"tickSize":-7,"labels":false,"title":null}}}},
{"transform":[{"filter":"datum.s==='N-2017B'"}],"mark":{"type":"point","opacity":0},"encoding":{"x":{"field":"phase","type":"quantitative","scale":{"domain":[0,2],"nice":false,"zero":false},"axis":{"orient":"top","values":[0,0.5,1,1.5,2],"tickSize":-10,"labels":false,"title":null}},"y":{"field":"rate","type":"quantitative","scale":{"domain":[0.0757,0.138],"nice":false,"zero":false},"axis":{"orient":"right","values":[0.09,0.11,0.13],"tickSize":-7,"labels":false,"title":null}}}}
],"resolve":{"scale":{"y":"independent"},"axis":{"x":"independent","y":"independent"}}},

{"width":625,"height":155.8,"title":{"text":"X-2017C: 415.7242 ms, 9.45 ± 1.66 %"},"transform":[{"filter":"datum.s==='X-2017C'"}],
"layer":[
{"mark":{"type":"rule","color":"#000","strokeWidth":2,"clip":true},"encoding":{"x":{"field":"lo","type":"quantitative","scale":{"domain":[0,2],"nice":false,"zero":false},"axis":{"orient":"bottom","values":[0,0.1,0.2,0.3,0.4,0.5,0.6,0.7,0.8,0.9,1,1.1,1.2,1.3,1.4,1.5,1.6,1.7,1.8,1.9,2],"tickSize":-7,"labels":false,"title":null}},"x2":{"field":"hi"},"y":{"field":"rate","type":"quantitative","scale":{"domain":[0.895,1.306],"nice":false,"zero":false},"axis":{"orient":"left","values":[1,1.2],"format":"~g","tickSize":-11,"title":"Rate (cts/s)","titlePadding":13,"titleFont":"DejaVu Serif","titleFontSize":23,"titleFontWeight":"normal","titleLimit":1000,"minExtent":44,"maxExtent":44}}}},
{"mark":{"type":"line","interpolate":"step","color":"#000","strokeWidth":2,"clip":true},"encoding":{"x":{"field":"phase","type":"quantitative","scale":{"domain":[0,2],"nice":false,"zero":false},"axis":null},"y":{"field":"rate","type":"quantitative","scale":{"domain":[0.895,1.306],"nice":false,"zero":false},"axis":null}}},
{"mark":{"type":"errorbar","color":"#000","thickness":1.8},"encoding":{"x":{"field":"phase","type":"quantitative","scale":{"domain":[0,2],"nice":false,"zero":false},"axis":null},"y":{"field":"rate","type":"quantitative","scale":{"domain":[0.895,1.306],"nice":false,"zero":false},"axis":null},"yError":{"field":"err"}}},
{"mark":{"type":"point","opacity":0},"encoding":{"x":{"field":"phase","type":"quantitative","scale":{"domain":[0,2],"nice":false,"zero":false},"axis":{"orient":"top","values":[0,0.1,0.2,0.3,0.4,0.5,0.6,0.7,0.8,0.9,1,1.1,1.2,1.3,1.4,1.5,1.6,1.7,1.8,1.9,2],"tickSize":-7,"labels":false,"title":null}},"y":{"field":"rate","type":"quantitative","scale":{"domain":[0.895,1.306],"nice":false,"zero":false},"axis":{"orient":"left","values":[0.9,1.1,1.3],"tickSize":-7,"labels":false,"title":null}}}},
{"mark":{"type":"point","opacity":0},"encoding":{"x":{"field":"phase","type":"quantitative","scale":{"domain":[0,2],"nice":false,"zero":false},"axis":{"orient":"bottom","values":[0,0.5,1,1.5,2],"tickSize":-10,"labels":false,"title":null}},"y":{"field":"rate","type":"quantitative","scale":{"domain":[0.895,1.306],"nice":false,"zero":false},"axis":{"orient":"right","values":[1,1.2],"tickSize":-11,"labels":false,"title":null}}}},
{"mark":{"type":"point","opacity":0},"encoding":{"x":{"field":"phase","type":"quantitative","scale":{"domain":[0,2],"nice":false,"zero":false},"axis":{"orient":"top","values":[0,0.5,1,1.5,2],"tickSize":-10,"labels":false,"title":null}},"y":{"field":"rate","type":"quantitative","scale":{"domain":[0.895,1.306],"nice":false,"zero":false},"axis":{"orient":"right","values":[0.9,1.1,1.3],"tickSize":-7,"labels":false,"title":null}}}}
],"resolve":{"scale":{"y":"independent"},"axis":{"x":"independent","y":"independent"}}},

{"width":625,"height":155.8,"title":{"text":"X-2017D: 415.6492 ms, 7.58 ± 1.47 %"},"transform":[{"filter":"datum.s==='X-2017D'"}],
"layer":[
{"mark":{"type":"rule","color":"#000","strokeWidth":2,"clip":true},"encoding":{"x":{"field":"lo","type":"quantitative","scale":{"domain":[0,2],"nice":false,"zero":false},"axis":{"orient":"bottom","values":[0,0.1,0.2,0.3,0.4,0.5,0.6,0.7,0.8,0.9,1,1.1,1.2,1.3,1.4,1.5,1.6,1.7,1.8,1.9,2],"tickSize":-7,"labels":false,"title":null}},"x2":{"field":"hi"},"y":{"field":"rate","type":"quantitative","scale":{"domain":[1.149,1.61],"nice":false,"zero":false},"axis":{"orient":"left","values":[1.2,1.4,1.6],"format":"~g","tickSize":-11,"title":"Rate (cts/s)","titlePadding":13,"titleFont":"DejaVu Serif","titleFontSize":23,"titleFontWeight":"normal","titleLimit":1000,"minExtent":44,"maxExtent":44}}}},
{"mark":{"type":"line","interpolate":"step","color":"#000","strokeWidth":2,"clip":true},"encoding":{"x":{"field":"phase","type":"quantitative","scale":{"domain":[0,2],"nice":false,"zero":false},"axis":null},"y":{"field":"rate","type":"quantitative","scale":{"domain":[1.149,1.61],"nice":false,"zero":false},"axis":null}}},
{"mark":{"type":"errorbar","color":"#000","thickness":1.8},"encoding":{"x":{"field":"phase","type":"quantitative","scale":{"domain":[0,2],"nice":false,"zero":false},"axis":null},"y":{"field":"rate","type":"quantitative","scale":{"domain":[1.149,1.61],"nice":false,"zero":false},"axis":null},"yError":{"field":"err"}}},
{"mark":{"type":"point","opacity":0},"encoding":{"x":{"field":"phase","type":"quantitative","scale":{"domain":[0,2],"nice":false,"zero":false},"axis":{"orient":"top","values":[0,0.1,0.2,0.3,0.4,0.5,0.6,0.7,0.8,0.9,1,1.1,1.2,1.3,1.4,1.5,1.6,1.7,1.8,1.9,2],"tickSize":-7,"labels":false,"title":null}},"y":{"field":"rate","type":"quantitative","scale":{"domain":[1.149,1.61],"nice":false,"zero":false},"axis":{"orient":"left","values":[1.3,1.5],"tickSize":-7,"labels":false,"title":null}}}},
{"mark":{"type":"point","opacity":0},"encoding":{"x":{"field":"phase","type":"quantitative","scale":{"domain":[0,2],"nice":false,"zero":false},"axis":{"orient":"bottom","values":[0,0.5,1,1.5,2],"tickSize":-10,"labels":false,"title":null}},"y":{"field":"rate","type":"quantitative","scale":{"domain":[1.149,1.61],"nice":false,"zero":false},"axis":{"orient":"right","values":[1.2,1.4,1.6],"tickSize":-11,"labels":false,"title":null}}}},
{"mark":{"type":"point","opacity":0},"encoding":{"x":{"field":"phase","type":"quantitative","scale":{"domain":[0,2],"nice":false,"zero":false},"axis":{"orient":"top","values":[0,0.5,1,1.5,2],"tickSize":-10,"labels":false,"title":null}},"y":{"field":"rate","type":"quantitative","scale":{"domain":[1.149,1.61],"nice":false,"zero":false},"axis":{"orient":"right","values":[1.3,1.5],"tickSize":-7,"labels":false,"title":null}}}}
],"resolve":{"scale":{"y":"independent"},"axis":{"x":"independent","y":"independent"}}},

{"width":625,"height":155.8,"title":{"text":"X-2017E: 415.6693 ms, 9.51 ± 1.56 %"},"transform":[{"filter":"datum.s==='X-2017E'"}],
"layer":[
{"mark":{"type":"rule","color":"#000","strokeWidth":2,"clip":true},"encoding":{"x":{"field":"lo","type":"quantitative","scale":{"domain":[0,2],"nice":false,"zero":false},"axis":{"orient":"bottom","values":[0,0.1,0.2,0.3,0.4,0.5,0.6,0.7,0.8,0.9,1,1.1,1.2,1.3,1.4,1.5,1.6,1.7,1.8,1.9,2],"tickSize":-7,"labels":false,"title":null}},"x2":{"field":"hi"},"y":{"field":"rate","type":"quantitative","scale":{"domain":[1.0815,1.568],"nice":false,"zero":false},"axis":{"orient":"left","values":[1.2,1.4],"format":"~g","tickSize":-11,"title":"Rate (cts/s)","titlePadding":13,"titleFont":"DejaVu Serif","titleFontSize":23,"titleFontWeight":"normal","titleLimit":1000,"minExtent":44,"maxExtent":44}}}},
{"mark":{"type":"line","interpolate":"step","color":"#000","strokeWidth":2,"clip":true},"encoding":{"x":{"field":"phase","type":"quantitative","scale":{"domain":[0,2],"nice":false,"zero":false},"axis":null},"y":{"field":"rate","type":"quantitative","scale":{"domain":[1.0815,1.568],"nice":false,"zero":false},"axis":null}}},
{"mark":{"type":"errorbar","color":"#000","thickness":1.8},"encoding":{"x":{"field":"phase","type":"quantitative","scale":{"domain":[0,2],"nice":false,"zero":false},"axis":null},"y":{"field":"rate","type":"quantitative","scale":{"domain":[1.0815,1.568],"nice":false,"zero":false},"axis":null},"yError":{"field":"err"}}},
{"mark":{"type":"point","opacity":0},"encoding":{"x":{"field":"phase","type":"quantitative","scale":{"domain":[0,2],"nice":false,"zero":false},"axis":{"orient":"top","values":[0,0.1,0.2,0.3,0.4,0.5,0.6,0.7,0.8,0.9,1,1.1,1.2,1.3,1.4,1.5,1.6,1.7,1.8,1.9,2],"tickSize":-7,"labels":false,"title":null}},"y":{"field":"rate","type":"quantitative","scale":{"domain":[1.0815,1.568],"nice":false,"zero":false},"axis":{"orient":"left","values":[1.1,1.3,1.5],"tickSize":-7,"labels":false,"title":null}}}},
{"mark":{"type":"point","opacity":0},"encoding":{"x":{"field":"phase","type":"quantitative","scale":{"domain":[0,2],"nice":false,"zero":false},"axis":{"orient":"bottom","values":[0,0.5,1,1.5,2],"tickSize":-10,"labels":false,"title":null}},"y":{"field":"rate","type":"quantitative","scale":{"domain":[1.0815,1.568],"nice":false,"zero":false},"axis":{"orient":"right","values":[1.2,1.4],"tickSize":-11,"labels":false,"title":null}}}},
{"mark":{"type":"point","opacity":0},"encoding":{"x":{"field":"phase","type":"quantitative","scale":{"domain":[0,2],"nice":false,"zero":false},"axis":{"orient":"top","values":[0,0.5,1,1.5,2],"tickSize":-10,"labels":false,"title":null}},"y":{"field":"rate","type":"quantitative","scale":{"domain":[1.0815,1.568],"nice":false,"zero":false},"axis":{"orient":"right","values":[1.1,1.3,1.5],"tickSize":-7,"labels":false,"title":null}}}}
],"resolve":{"scale":{"y":"independent"},"axis":{"x":"independent","y":"independent"}}},

{"width":625,"height":155.8,"title":{"text":"N-2017F: 415.7050 ms, 15.42 ± 2.03 %","color":"#0000ff"},"transform":[{"filter":"datum.s==='N-2017F'"}],
"layer":[
{"mark":{"type":"rule","color":"#0000ff","strokeWidth":2,"clip":true},"encoding":{"x":{"field":"lo","type":"quantitative","scale":{"domain":[0,2],"nice":false,"zero":false},"axis":{"orient":"bottom","values":[0,0.1,0.2,0.3,0.4,0.5,0.6,0.7,0.8,0.9,1,1.1,1.2,1.3,1.4,1.5,1.6,1.7,1.8,1.9,2],"tickSize":-7,"labels":false,"title":null}},"x2":{"field":"hi"},"y":{"field":"rate","type":"quantitative","scale":{"domain":[0.1407,0.233],"nice":false,"zero":false},"axis":{"orient":"left","values":[0.15,0.2],"format":"~g","tickSize":-11,"title":"Rate (cts/s)","titlePadding":13,"titleFont":"DejaVu Serif","titleFontSize":23,"titleFontWeight":"normal","titleLimit":1000,"minExtent":44,"maxExtent":44}}}},
{"mark":{"type":"line","interpolate":"step","color":"#0000ff","strokeWidth":2,"clip":true},"encoding":{"x":{"field":"phase","type":"quantitative","scale":{"domain":[0,2],"nice":false,"zero":false},"axis":null},"y":{"field":"rate","type":"quantitative","scale":{"domain":[0.1407,0.233],"nice":false,"zero":false},"axis":null}}},
{"mark":{"type":"errorbar","color":"#0000ff","thickness":1.8},"encoding":{"x":{"field":"phase","type":"quantitative","scale":{"domain":[0,2],"nice":false,"zero":false},"axis":null},"y":{"field":"rate","type":"quantitative","scale":{"domain":[0.1407,0.233],"nice":false,"zero":false},"axis":null},"yError":{"field":"err"}}},
{"mark":{"type":"point","opacity":0},"encoding":{"x":{"field":"phase","type":"quantitative","scale":{"domain":[0,2],"nice":false,"zero":false},"axis":{"orient":"top","values":[0,0.1,0.2,0.3,0.4,0.5,0.6,0.7,0.8,0.9,1,1.1,1.2,1.3,1.4,1.5,1.6,1.7,1.8,1.9,2],"tickSize":-7,"labels":false,"title":null}},"y":{"field":"rate","type":"quantitative","scale":{"domain":[0.1407,0.233],"nice":false,"zero":false},"axis":{"orient":"left","values":[0.16,0.17,0.18,0.19,0.21,0.22,0.23],"tickSize":-7,"labels":false,"title":null}}}},
{"mark":{"type":"point","opacity":0},"encoding":{"x":{"field":"phase","type":"quantitative","scale":{"domain":[0,2],"nice":false,"zero":false},"axis":{"orient":"bottom","values":[0,0.5,1,1.5,2],"tickSize":-10,"labels":false,"title":null}},"y":{"field":"rate","type":"quantitative","scale":{"domain":[0.1407,0.233],"nice":false,"zero":false},"axis":{"orient":"right","values":[0.15,0.2],"tickSize":-11,"labels":false,"title":null}}}},
{"mark":{"type":"point","opacity":0},"encoding":{"x":{"field":"phase","type":"quantitative","scale":{"domain":[0,2],"nice":false,"zero":false},"axis":{"orient":"top","values":[0,0.5,1,1.5,2],"tickSize":-10,"labels":false,"title":null}},"y":{"field":"rate","type":"quantitative","scale":{"domain":[0.1407,0.233],"nice":false,"zero":false},"axis":{"orient":"right","values":[0.16,0.17,0.18,0.19,0.21,0.22,0.23],"tickSize":-7,"labels":false,"title":null}}}}
],"resolve":{"scale":{"y":"independent"},"axis":{"x":"independent","y":"independent"}}},

{"width":625,"height":155.8,"title":{"text":"N-2017G: 415.7409 ms, 14.21 ± 2.31 %","color":"#0000ff"},"transform":[{"filter":"datum.s==='N-2017G'"}],
"layer":[
{"mark":{"type":"rule","color":"#0000ff","strokeWidth":2,"clip":true},"encoding":{"x":{"field":"lo","type":"quantitative","scale":{"domain":[0,2],"nice":false,"zero":false},"axis":{"orient":"bottom","values":[0,0.1,0.2,0.3,0.4,0.5,0.6,0.7,0.8,0.9,1,1.1,1.2,1.3,1.4,1.5,1.6,1.7,1.8,1.9,2],"tickSize":-7,"labels":false,"title":null}},"x2":{"field":"hi"},"y":{"field":"rate","type":"quantitative","scale":{"domain":[0.1192,0.194],"nice":false,"zero":false},"axis":{"orient":"left","values":[0.12,0.14,0.16,0.18],"format":"~g","tickSize":-11,"title":"Rate (cts/s)","titlePadding":13,"titleFont":"DejaVu Serif","titleFontSize":23,"titleFontWeight":"normal","titleLimit":1000,"minExtent":44,"maxExtent":44}}}},
{"mark":{"type":"line","interpolate":"step","color":"#0000ff","strokeWidth":2,"clip":true},"encoding":{"x":{"field":"phase","type":"quantitative","scale":{"domain":[0,2],"nice":false,"zero":false},"axis":null},"y":{"field":"rate","type":"quantitative","scale":{"domain":[0.1192,0.194],"nice":false,"zero":false},"axis":null}}},
{"mark":{"type":"errorbar","color":"#0000ff","thickness":1.8},"encoding":{"x":{"field":"phase","type":"quantitative","scale":{"domain":[0,2],"nice":false,"zero":false},"axis":null},"y":{"field":"rate","type":"quantitative","scale":{"domain":[0.1192,0.194],"nice":false,"zero":false},"axis":null},"yError":{"field":"err"}}},
{"mark":{"type":"point","opacity":0},"encoding":{"x":{"field":"phase","type":"quantitative","scale":{"domain":[0,2],"nice":false,"zero":false},"axis":{"orient":"top","values":[0,0.1,0.2,0.3,0.4,0.5,0.6,0.7,0.8,0.9,1,1.1,1.2,1.3,1.4,1.5,1.6,1.7,1.8,1.9,2],"tickSize":-7,"labels":false,"title":null}},"y":{"field":"rate","type":"quantitative","scale":{"domain":[0.1192,0.194],"nice":false,"zero":false},"axis":{"orient":"left","values":[0.13,0.15,0.17,0.19],"tickSize":-7,"labels":false,"title":null}}}},
{"mark":{"type":"point","opacity":0},"encoding":{"x":{"field":"phase","type":"quantitative","scale":{"domain":[0,2],"nice":false,"zero":false},"axis":{"orient":"bottom","values":[0,0.5,1,1.5,2],"tickSize":-10,"labels":false,"title":null}},"y":{"field":"rate","type":"quantitative","scale":{"domain":[0.1192,0.194],"nice":false,"zero":false},"axis":{"orient":"right","values":[0.12,0.14,0.16,0.18],"tickSize":-11,"labels":false,"title":null}}}},
{"mark":{"type":"point","opacity":0},"encoding":{"x":{"field":"phase","type":"quantitative","scale":{"domain":[0,2],"nice":false,"zero":false},"axis":{"orient":"top","values":[0,0.5,1,1.5,2],"tickSize":-10,"labels":false,"title":null}},"y":{"field":"rate","type":"quantitative","scale":{"domain":[0.1192,0.194],"nice":false,"zero":false},"axis":{"orient":"right","values":[0.13,0.15,0.17,0.19],"tickSize":-7,"labels":false,"title":null}}}}
],"resolve":{"scale":{"y":"independent"},"axis":{"x":"independent","y":"independent"}}},

{"width":625,"height":155.8,"title":{"text":"N-2017H: 415.2284 ms, 12.50 ± 2.05 %","color":"#0000ff"},"transform":[{"filter":"datum.s==='N-2017H'"}],
"layer":[
{"mark":{"type":"rule","color":"#0000ff","strokeWidth":2,"clip":true},"encoding":{"x":{"field":"lo","type":"quantitative","scale":{"domain":[0,2],"nice":false,"zero":false},"axis":{"orient":"bottom","values":[0,0.1,0.2,0.3,0.4,0.5,0.6,0.7,0.8,0.9,1,1.1,1.2,1.3,1.4,1.5,1.6,1.7,1.8,1.9,2],"tickSize":-7,"labels":false,"title":null}},"x2":{"field":"hi"},"y":{"field":"rate","type":"quantitative","scale":{"domain":[0.2085,0.328],"nice":false,"zero":false},"axis":{"orient":"left","values":[0.25,0.3],"format":"~g","tickSize":-11,"title":"Rate (cts/s)","titlePadding":13,"titleFont":"DejaVu Serif","titleFontSize":23,"titleFontWeight":"normal","titleLimit":1000,"minExtent":44,"maxExtent":44}}}},
{"mark":{"type":"line","interpolate":"step","color":"#0000ff","strokeWidth":2,"clip":true},"encoding":{"x":{"field":"phase","type":"quantitative","scale":{"domain":[0,2],"nice":false,"zero":false},"axis":null},"y":{"field":"rate","type":"quantitative","scale":{"domain":[0.2085,0.328],"nice":false,"zero":false},"axis":null}}},
{"mark":{"type":"errorbar","color":"#0000ff","thickness":1.8},"encoding":{"x":{"field":"phase","type":"quantitative","scale":{"domain":[0,2],"nice":false,"zero":false},"axis":null},"y":{"field":"rate","type":"quantitative","scale":{"domain":[0.2085,0.328],"nice":false,"zero":false},"axis":null},"yError":{"field":"err"}}},
{"mark":{"type":"point","opacity":0},"encoding":{"x":{"field":"phase","type":"quantitative","scale":{"domain":[0,2],"nice":false,"zero":false},"axis":{"orient":"top","values":[0,0.1,0.2,0.3,0.4,0.5,0.6,0.7,0.8,0.9,1,1.1,1.2,1.3,1.4,1.5,1.6,1.7,1.8,1.9,2],"tickSize":-7,"labels":false,"title":null}},"y":{"field":"rate","type":"quantitative","scale":{"domain":[0.2085,0.328],"nice":false,"zero":false},"axis":{"orient":"left","values":[0.21,0.22,0.23,0.24,0.26,0.27,0.28,0.29,0.31,0.32],"tickSize":-7,"labels":false,"title":null}}}},
{"mark":{"type":"point","opacity":0},"encoding":{"x":{"field":"phase","type":"quantitative","scale":{"domain":[0,2],"nice":false,"zero":false},"axis":{"orient":"bottom","values":[0,0.5,1,1.5,2],"tickSize":-10,"labels":false,"title":null}},"y":{"field":"rate","type":"quantitative","scale":{"domain":[0.2085,0.328],"nice":false,"zero":false},"axis":{"orient":"right","values":[0.25,0.3],"tickSize":-11,"labels":false,"title":null}}}},
{"mark":{"type":"point","opacity":0},"encoding":{"x":{"field":"phase","type":"quantitative","scale":{"domain":[0,2],"nice":false,"zero":false},"axis":{"orient":"top","values":[0,0.5,1,1.5,2],"tickSize":-10,"labels":false,"title":null}},"y":{"field":"rate","type":"quantitative","scale":{"domain":[0.2085,0.328],"nice":false,"zero":false},"axis":{"orient":"right","values":[0.21,0.22,0.23,0.24,0.26,0.27,0.28,0.29,0.31,0.32],"tickSize":-7,"labels":false,"title":null}}}}
],"resolve":{"scale":{"y":"independent"},"axis":{"x":"independent","y":"independent"}}},

{"width":625,"height":155.8,"title":{"text":"X-2017I: 415.2138 ms, 13.75 ± 1.37 %","subtitle":"N-2017I: 415.2153 ms, 18.16 ± 2.22%","offset":-44},
"layer":[
{"transform":[{"filter":"datum.s==='N-2017I'"}],"mark":{"type":"rule","color":"#0000ff","strokeWidth":2,"clip":true},"encoding":{"x":{"field":"lo","type":"quantitative","scale":{"domain":[0,2],"nice":false,"zero":false},"axis":{"orient":"top","values":[0,0.1,0.2,0.3,0.4,0.5,0.6,0.7,0.8,0.9,1,1.1,1.2,1.3,1.4,1.5,1.6,1.7,1.8,1.9,2],"tickSize":-7,"labels":false,"title":null}},"x2":{"field":"hi"},"y":{"field":"rate","type":"quantitative","scale":{"domain":[0.11,0.195],"nice":false,"zero":false},"axis":{"orient":"right","values":[0.15],"format":"~g","tickSize":-11,"labelPadding":7,"title":"Rate (cts/s)","titlePadding":10,"titleFont":"DejaVu Serif","titleFontSize":22,"titleFontWeight":"normal","titleLimit":1000,"minExtent":44,"maxExtent":44}}}},
{"transform":[{"filter":"datum.s==='N-2017I'"}],"mark":{"type":"line","interpolate":"step","color":"#0000ff","strokeWidth":2,"clip":true},"encoding":{"x":{"field":"phase","type":"quantitative","scale":{"domain":[0,2],"nice":false,"zero":false},"axis":null},"y":{"field":"rate","type":"quantitative","scale":{"domain":[0.11,0.195],"nice":false,"zero":false},"axis":null}}},
{"transform":[{"filter":"datum.s==='N-2017I'"}],"mark":{"type":"errorbar","color":"#0000ff","thickness":1.8},"encoding":{"x":{"field":"phase","type":"quantitative","scale":{"domain":[0,2],"nice":false,"zero":false},"axis":null},"y":{"field":"rate","type":"quantitative","scale":{"domain":[0.11,0.195],"nice":false,"zero":false},"axis":null},"yError":{"field":"err"}}},
{"transform":[{"filter":"datum.s==='X-2017I'"}],"mark":{"type":"rule","color":"#000","strokeWidth":2,"clip":true},"encoding":{"x":{"field":"lo","type":"quantitative","scale":{"domain":[0,2],"nice":false,"zero":false},"axis":{"orient":"bottom","values":[0,0.1,0.2,0.3,0.4,0.5,0.6,0.7,0.8,0.9,1,1.1,1.2,1.3,1.4,1.5,1.6,1.7,1.8,1.9,2],"tickSize":-7,"labels":false,"title":null}},"x2":{"field":"hi"},"y":{"field":"rate","type":"quantitative","scale":{"domain":[0.7156,1.1316],"nice":false,"zero":false},"axis":{"orient":"left","values":[0.8,1],"format":"~g","tickSize":-11,"title":"Rate (cts/s)","titlePadding":13,"titleFont":"DejaVu Serif","titleFontSize":23,"titleFontWeight":"normal","titleLimit":1000,"minExtent":44,"maxExtent":44}}}},
{"transform":[{"filter":"datum.s==='X-2017I'"}],"mark":{"type":"line","interpolate":"step","color":"#000","strokeWidth":2,"clip":true},"encoding":{"x":{"field":"phase","type":"quantitative","scale":{"domain":[0,2],"nice":false,"zero":false},"axis":null},"y":{"field":"rate","type":"quantitative","scale":{"domain":[0.7156,1.1316],"nice":false,"zero":false},"axis":null}}},
{"transform":[{"filter":"datum.s==='X-2017I'"}],"mark":{"type":"errorbar","color":"#000","thickness":1.8},"encoding":{"x":{"field":"phase","type":"quantitative","scale":{"domain":[0,2],"nice":false,"zero":false},"axis":null},"y":{"field":"rate","type":"quantitative","scale":{"domain":[0.7156,1.1316],"nice":false,"zero":false},"axis":null},"yError":{"field":"err"}}},
{"transform":[{"filter":"datum.s==='X-2017I'"}],"mark":{"type":"point","opacity":0},"encoding":{"x":{"field":"phase","type":"quantitative","scale":{"domain":[0,2],"nice":false,"zero":false},"axis":{"orient":"bottom","values":[0,0.5,1,1.5,2],"format":"~g","tickSize":-10,"labels":true,"labelPadding":6,"title":"Phase","titleFont":"DejaVu Serif","titleFontSize":21,"titleFontWeight":"normal","titlePadding":3}},"y":{"field":"rate","type":"quantitative","scale":{"domain":[0.7156,1.1316],"nice":false,"zero":false},"axis":{"orient":"left","values":[0.9,1.1],"tickSize":-7,"labels":false,"title":null}}}},
{"transform":[{"filter":"datum.s==='N-2017I'"}],"mark":{"type":"point","opacity":0},"encoding":{"x":{"field":"phase","type":"quantitative","scale":{"domain":[0,2],"nice":false,"zero":false},"axis":{"orient":"top","values":[0,0.5,1,1.5,2],"tickSize":-10,"labels":false,"title":null}},"y":{"field":"rate","type":"quantitative","scale":{"domain":[0.11,0.195],"nice":false,"zero":false},"axis":{"orient":"right","values":[0.11,0.12,0.13,0.14,0.16,0.17,0.18,0.19],"tickSize":-7,"labels":false,"title":null}}}}
],"resolve":{"scale":{"y":"independent"},"axis":{"x":"independent","y":"independent"}}}
],
"config": {
 "font": "DejaVu Serif",
 "view": {"stroke": "#000", "strokeWidth": 1.3},
 "axis": {"domain": false, "grid": false, "tickColor": "#000", "tickWidth": 1.2, "labelFont": "DejaVu Serif", "labelFontSize": 18, "labelColor": "#000", "labelPadding": 8, "labelFlush": false, "labelOverlap": false, "titleFont": "DejaVu Serif", "titleFontSize": 23, "titleFontWeight": "normal", "titleColor": "#000"},
 "style": {"guide-title": {"font": "DejaVu Serif", "fontSize": 23, "fontWeight": "normal"}},
 "title": {"anchor": "start", "frame": "group", "orient": "top", "offset": -25, "dx": 35, "font": "DejaVu Serif", "fontSize": 20, "fontWeight": "normal", "color": "#000", "subtitleFont": "DejaVu Serif", "subtitleFontSize": 20, "subtitleFontWeight": "normal", "subtitleColor": "#0000ff", "subtitlePadding": 0}
}
}
